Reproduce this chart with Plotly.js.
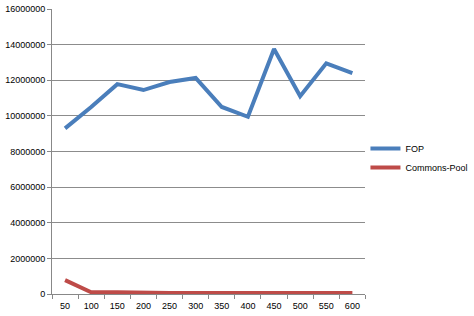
<!DOCTYPE html>
<html>
<head>
<meta charset="utf-8">
<script src="https://cdn.plot.ly/plotly-3.0.1.min.js"></script>
<style>html,body{margin:0;padding:0;background:#fff;}#chart{width:474px;height:316px;}</style>
</head>
<body>
<div id="chart"></div>
<script>
var categories = ['50','100','150','200','250','300','350','400','450','500','550','600'];
var fopValues = [9300000, 10500000, 11780000, 11450000, 11900000, 12130000, 10500000, 9950000, 13750000, 11100000, 12950000, 12400000];
var poolValues = [780000, 100000, 100000, 50000, 50000, 50000, 50000, 50000, 50000, 50000, 50000, 50000];
var yTicks = [0, 2000000, 4000000, 6000000, 8000000, 10000000, 12000000, 14000000, 16000000];

var traces = [
  {x: categories, y: fopValues, name: 'FOP', type: 'scatter', mode: 'lines',
   line: {color: '#4A7EBB', width: 4}},
  {x: categories, y: poolValues, name: 'Commons-Pool', type: 'scatter', mode: 'lines',
   line: {color: '#BE4B48', width: 4}}
];
var layout = {
  width: 474, height: 316,
  margin: {l: 52, r: 108, t: 9, b: 22},
  paper_bgcolor: '#fff', plot_bgcolor: '#fff',
  font: {family: 'Liberation Sans, Arial, sans-serif', size: 9, color: '#000'},
  showlegend: true,
  legend: {xref: 'container', yref: 'container', x: 0.771, y: 0.5, xanchor: 'left', yanchor: 'middle',
           font: {size: 9}, itemwidth: 30, tracegroupgap: 0, bgcolor: 'rgba(0,0,0,0)'},
  xaxis: {type: 'category', range: [-0.5, categories.length - 0.5], showgrid: false,
          showline: true, linecolor: '#888', linewidth: 1, tickangle: 0,
          ticks: 'outside', tickson: 'boundaries', ticklen: 4, tickcolor: '#888',
          ticklabelstandoff: 3,
          zeroline: false, tickfont: {size: 9}},
  yaxis: {range: [0, 16000000], tickvals: yTicks, tickformat: 'd', showgrid: true,
          gridcolor: '#8c8c8c', gridwidth: 1, showline: true, linecolor: '#888',
          ticks: 'outside', ticklen: 4, tickcolor: '#888', zeroline: false,
          tickfont: {size: 9}}
};
Plotly.newPlot('chart', traces, layout, {displayModeBar: false, staticPlot: true});
</script>
</body>
</html>
